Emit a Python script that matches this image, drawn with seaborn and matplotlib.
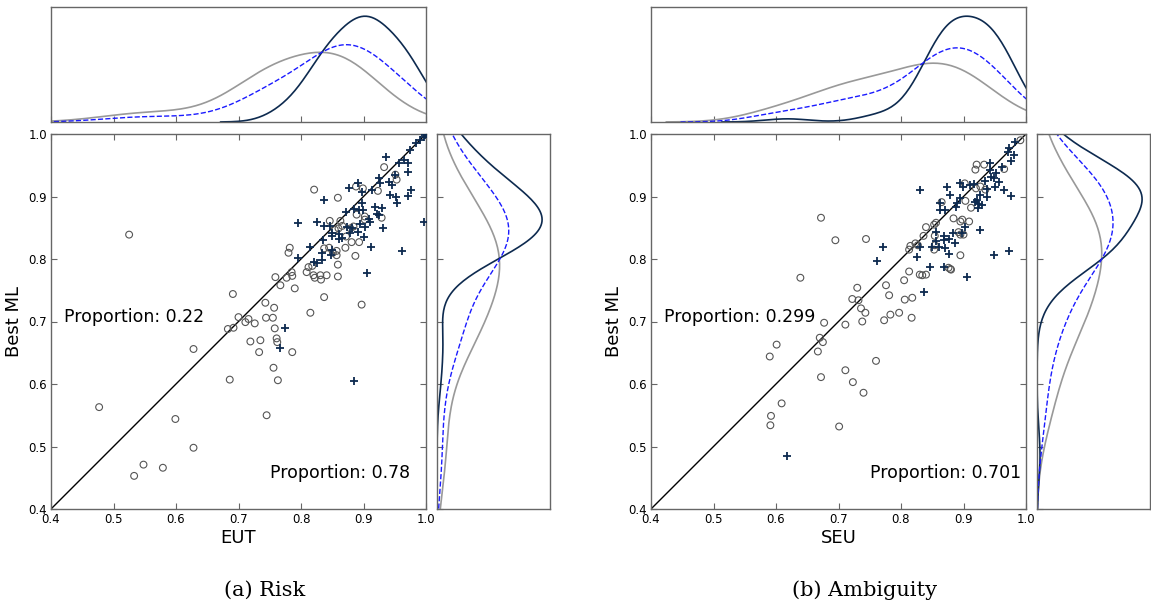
import numpy as np
import pandas as pd
import matplotlib
matplotlib.use("Agg")
import matplotlib.pyplot as plt
import seaborn as sns

# ---- data ----
# (a) Risk: circles (gray) and pluses (navy)
risk_circ_x = [0.477, 0.525, 0.548, 0.533, 0.579, 0.599, 0.628, 0.628, 0.686, 0.691,
               0.683, 0.692, 0.700, 0.711, 0.716, 0.726, 0.719, 0.735, 0.733, 0.743,
               0.744, 0.755, 0.757, 0.758, 0.761, 0.762, 0.756, 0.763, 0.745, 0.786,
               0.759, 0.767, 0.777, 0.785, 0.786, 0.780, 0.782, 0.790, 0.815, 0.809,
               0.812, 0.818, 0.820, 0.822, 0.831, 0.832, 0.841, 0.837, 0.859, 0.859,
               0.857, 0.857, 0.837, 0.845, 0.851, 0.821, 0.846, 0.854, 0.860, 0.866,
               0.863, 0.871, 0.872, 0.879, 0.881, 0.884, 0.887, 0.893, 0.897, 0.859,
               0.889, 0.888, 0.899, 0.902, 0.902, 0.923, 0.929, 0.933, 0.951, 0.953]
risk_circ_y = [0.563, 0.839, 0.471, 0.453, 0.466, 0.544, 0.498, 0.656, 0.607, 0.744,
               0.688, 0.690, 0.707, 0.699, 0.704, 0.697, 0.668, 0.670, 0.651, 0.730,
               0.706, 0.706, 0.722, 0.689, 0.673, 0.667, 0.626, 0.606, 0.550, 0.651,
               0.771, 0.758, 0.770, 0.779, 0.773, 0.810, 0.818, 0.753, 0.714, 0.779,
               0.787, 0.789, 0.774, 0.770, 0.774, 0.767, 0.774, 0.739, 0.772, 0.791,
               0.806, 0.813, 0.817, 0.818, 0.810, 0.911, 0.861, 0.847, 0.849, 0.853,
               0.861, 0.818, 0.836, 0.849, 0.827, 0.852, 0.805, 0.827, 0.727, 0.898,
               0.871, 0.916, 0.913, 0.868, 0.863, 0.909, 0.866, 0.947, 0.935, 0.927]
risk_plus_x = [0.795, 0.795, 0.814, 0.826, 0.837, 0.836, 0.835, 0.834, 0.833, 0.820,
               0.825, 0.846, 0.850, 0.850, 0.848, 0.850, 0.860, 0.865, 0.860, 0.872,
               0.873, 0.876, 0.882, 0.879, 0.884, 0.891, 0.892, 0.891, 0.894, 0.898,
               0.898, 0.899, 0.900, 0.903, 0.905, 0.884, 0.909, 0.910, 0.912, 0.913,
               0.918, 0.921, 0.924, 0.924, 0.926, 0.929, 0.931, 0.936, 0.940, 0.945,
               0.943, 0.950, 0.952, 0.953, 0.957, 0.962, 0.965, 0.971, 0.971, 0.971,
               0.976, 0.974, 0.984, 0.990, 0.996, 0.998, 0.997, 0.774, 0.767]
risk_plus_y = [0.858, 0.801, 0.819, 0.860, 0.894, 0.853, 0.830, 0.810, 0.798, 0.796,
               0.793, 0.853, 0.841, 0.837, 0.806, 0.814, 0.840, 0.833, 0.832, 0.875,
               0.851, 0.913, 0.849, 0.841, 0.880, 0.921, 0.878, 0.843, 0.856, 0.907,
               0.890, 0.879, 0.836, 0.851, 0.778, 0.605, 0.864, 0.860, 0.820, 0.910,
               0.884, 0.872, 0.930, 0.870, 0.921, 0.881, 0.849, 0.963, 0.924, 0.919,
               0.903, 0.934, 0.899, 0.889, 0.953, 0.813, 0.958, 0.953, 0.940, 0.901,
               0.911, 0.975, 0.986, 0.991, 0.996, 0.998, 0.859, 0.689, 0.658]

# (b) Ambiguity
amb_circ_x = [0.590, 0.601, 0.592, 0.591, 0.609, 0.639, 0.672, 0.695, 0.744, 0.667,
              0.670, 0.675, 0.677, 0.672, 0.701, 0.711, 0.711, 0.723, 0.740, 0.722,
              0.730, 0.732, 0.736, 0.743, 0.738, 0.760, 0.773, 0.776, 0.781, 0.783,
              0.797, 0.805, 0.806, 0.817, 0.818, 0.813, 0.813, 0.815, 0.823, 0.827,
              0.830, 0.834, 0.840, 0.836, 0.840, 0.853, 0.856, 0.854, 0.854, 0.853,
              0.865, 0.876, 0.879, 0.880, 0.884, 0.895, 0.895, 0.892, 0.895, 0.900,
              0.898, 0.903, 0.902, 0.909, 0.912, 0.919, 0.921, 0.933, 0.920, 0.927,
              0.935, 0.965, 0.991]
amb_circ_y = [0.644, 0.663, 0.549, 0.534, 0.569, 0.770, 0.866, 0.830, 0.832, 0.652,
              0.674, 0.667, 0.698, 0.611, 0.532, 0.622, 0.695, 0.603, 0.586, 0.736,
              0.754, 0.734, 0.721, 0.714, 0.700, 0.637, 0.702, 0.758, 0.742, 0.711,
              0.714, 0.766, 0.735, 0.706, 0.738, 0.780, 0.815, 0.821, 0.825, 0.822,
              0.775, 0.774, 0.775, 0.837, 0.851, 0.855, 0.858, 0.837, 0.822, 0.815,
              0.891, 0.786, 0.784, 0.783, 0.865, 0.806, 0.860, 0.843, 0.839, 0.839,
              0.863, 0.893, 0.921, 0.860, 0.882, 0.943, 0.951, 0.951, 0.913, 0.916,
              0.911, 0.944, 0.990]
amb_plus_x = [0.618, 0.761, 0.771, 0.830, 0.831, 0.826, 0.837, 0.847, 0.850, 0.856,
              0.856, 0.860, 0.868, 0.869, 0.869, 0.870, 0.876, 0.876, 0.871, 0.862,
              0.863, 0.874, 0.878, 0.886, 0.883, 0.888, 0.890, 0.894, 0.895, 0.899,
              0.897, 0.903, 0.905, 0.911, 0.916, 0.918, 0.921, 0.923, 0.925, 0.926,
              0.927, 0.930, 0.934, 0.938, 0.938, 0.942, 0.943, 0.944, 0.948, 0.948,
              0.951, 0.957, 0.961, 0.964, 0.972, 0.976, 0.976, 0.980, 0.971, 0.972,
              0.983, 0.952]
amb_plus_y = [0.485, 0.797, 0.820, 0.911, 0.819, 0.803, 0.748, 0.787, 0.820, 0.843,
              0.829, 0.820, 0.788, 0.830, 0.837, 0.818, 0.808, 0.832, 0.879, 0.878,
              0.890, 0.915, 0.902, 0.826, 0.841, 0.884, 0.890, 0.897, 0.921, 0.916,
              0.841, 0.852, 0.772, 0.918, 0.920, 0.891, 0.895, 0.881, 0.888, 0.902,
              0.847, 0.887, 0.925, 0.912, 0.900, 0.953, 0.943, 0.932, 0.929, 0.806,
              0.916, 0.924, 0.948, 0.910, 0.812, 0.901, 0.957, 0.967, 0.971, 0.978,
              0.988, 0.937]

panels = [
    dict(cx=risk_circ_x, cy=risk_circ_y, px=risk_plus_x, py=risk_plus_y,
         xlabel="EUT", upper="Proportion: 0.22", lower="Proportion: 0.78",
         caption="(a) Risk", x0=51),
    dict(cx=amb_circ_x, cy=amb_circ_y, px=amb_plus_x, py=amb_plus_y,
         xlabel="SEU", upper="Proportion: 0.299", lower="Proportion: 0.701",
         caption="(b) Ambiguity", x0=651),
]

NAVY = "#0d2a4f"
GRAY = "#999999"
BLUE = "#1a1aff"
TICKS = [0.4, 0.5, 0.6, 0.7, 0.8, 0.9, 1.0]
BW = 1.3

sns.set_theme(style="white")
plt.rcParams["font.family"] = ["DejaVu Sans"]
plt.rcParams["axes.edgecolor"] = "#666666"
plt.rcParams["axes.linewidth"] = 1.0
plt.rcParams["text.color"] = "black"
plt.rcParams["axes.labelcolor"] = "black"
plt.rcParams["xtick.labelcolor"] = "black"
plt.rcParams["ytick.labelcolor"] = "black"

W, H = 1151, 606
fig = plt.figure(figsize=(W / 100, H / 100), dpi=100)


def box(x, y, w, h):
    # pixel box (top-left origin) -> figure fraction
    return [x / W, 1 - (y + h) / H, w / W, h / H]


for p in panels:
    x0 = p["x0"]
    ax = fig.add_axes(box(x0, 134, 375, 375))
    axt = fig.add_axes(box(x0, 7, 375, 115))
    axr = fig.add_axes(box(x0 + 386, 134, 113, 375))

    circ = pd.DataFrame({"x": p["cx"], "y": p["cy"]})
    plus = pd.DataFrame({"x": p["px"], "y": p["py"]})
    both = pd.concat([circ, plus], ignore_index=True)

    # main scatter
    ax.axline((0.4, 0.4), slope=1, color="black", lw=1.0, zorder=1)
    sns.scatterplot(data=circ, x="x", y="y", ax=ax, marker="o", s=24,
                    facecolor="none", edgecolor="#555555", linewidth=0.8, zorder=2)
    sns.scatterplot(data=plus, x="x", y="y", ax=ax, marker="+", s=34,
                    color=NAVY, linewidth=1.3, zorder=3)
    ax.set_xlim(0.4, 1.0)
    ax.set_ylim(0.4, 1.0)
    ax.set_xticks(TICKS)
    ax.set_yticks(TICKS)
    ax.set_xticklabels([f"{t:.1f}" for t in TICKS])
    ax.set_yticklabels([f"{t:.1f}" for t in TICKS])
    ax.tick_params(direction="in", length=4, width=0.8, color="#666666",
                   labelsize=8.5, pad=3, top=True, right=True, bottom=True, left=True)
    ax.set_xlabel(p["xlabel"], fontsize=13, labelpad=2)
    ax.set_ylabel("Best ML", fontsize=13, labelpad=4)
    ax.text(0.421, 0.708, p["upper"], fontsize=12.5, va="center", ha="left")
    ax.text(0.751, 0.458, p["lower"], fontsize=12.5, va="center", ha="left")

    # top marginal
    sns.kdeplot(data=circ, x="x", ax=axt, color=GRAY, lw=1.2, bw_adjust=BW)
    sns.kdeplot(data=plus, x="x", ax=axt, color=NAVY, lw=1.2, bw_adjust=BW)
    sns.kdeplot(data=both, x="x", ax=axt, color=BLUE, lw=1.0, ls="--", bw_adjust=BW)
    axt.set_xlim(0.4, 1.0)
    top = max(l.get_ydata().max() for l in axt.get_lines())
    axt.set_ylim(0, top / 0.92)
    axt.set_xticks(TICKS)
    axt.set_yticks([])
    axt.set_xticklabels([])
    axt.set_xlabel("")
    axt.set_ylabel("")
    axt.tick_params(direction="in", length=4, width=0.8, color="#666666", bottom=True)

    # right marginal
    sns.kdeplot(data=circ, y="y", ax=axr, color=GRAY, lw=1.2, bw_adjust=BW)
    sns.kdeplot(data=plus, y="y", ax=axr, color=NAVY, lw=1.2, bw_adjust=BW)
    sns.kdeplot(data=both, y="y", ax=axr, color=BLUE, lw=1.0, ls="--", bw_adjust=BW)
    axr.set_ylim(0.4, 1.0)
    right = max(l.get_xdata().max() for l in axr.get_lines())
    axr.set_xlim(0, right / 0.93)
    axr.set_yticks(TICKS)
    axr.set_xticks([])
    axr.set_yticklabels([])
    axr.set_xlabel("")
    axr.set_ylabel("")
    axr.tick_params(direction="in", length=4, width=0.8, color="#666666", left=True)

    fig.text((x0 + 214) / W, 1 - 590 / H, p["caption"], fontsize=15,
             family=["DejaVu Serif"], ha="center", va="center")

fig.savefig("out.png", dpi=100)
